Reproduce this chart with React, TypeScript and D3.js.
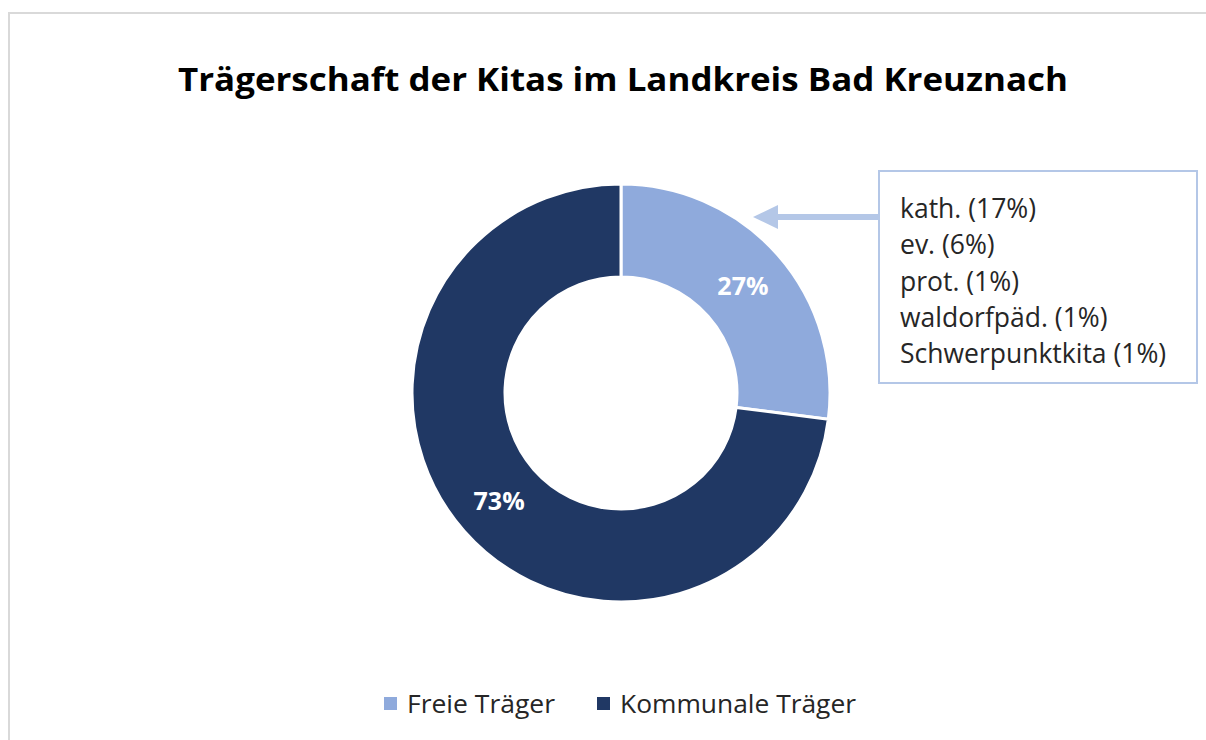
import React, { useEffect, useRef } from "react";
import * as d3 from "d3";

const categories = ["Freie Träger", "Kommunale Träger"];
const values = [27, 73];
const colors = ["#8FAADC", "#203864"];
const breakdown = ["kath. (17%)", "ev. (6%)", "prot. (1%)", "waldorfpäd. (1%)", "Schwerpunktkita (1%)"];
const title = "Trägerschaft der Kitas im Landkreis Bad Kreuznach";

export default function App() {
  const ref = useRef<SVGSVGElement>(null);
  useEffect(() => {
    const svg = d3.select(ref.current);
    svg.selectAll("*").remove();
    const font = "'Open Sans', Lato, sans-serif";

    svg.append("rect").attr("x", 9).attr("y", 13).attr("width", 1250).attr("height", 800)
      .attr("fill", "white").attr("stroke", "#d9d9d9").attr("stroke-width", 2);

    svg.append("text").attr("x", 178).attr("y", 91)
      .attr("font-family", font).attr("font-weight", 700).attr("font-size", 33)
      .attr("textLength", 890).attr("lengthAdjust", "spacingAndGlyphs")
      .attr("fill", "#000").text(title);

    const cx = 621, cy = 393, R = 209, r = 116;
    const pie = d3.pie<number>().sort(null).value(d => d);
    const arcs = pie(values);
    const arc = d3.arc<d3.PieArcDatum<number>>().innerRadius(r).outerRadius(R);
    const g = svg.append("g").attr("transform", `translate(${cx},${cy})`);
    g.selectAll("path").data(arcs).join("path").attr("d", arc as any)
      .attr("fill", (_, i) => colors[i]).attr("stroke", "white").attr("stroke-width", 3);
    const labelArc = d3.arc<d3.PieArcDatum<number>>().innerRadius((r + R) / 2).outerRadius((r + R) / 2);
    g.selectAll("text.lbl").data(arcs).join("text").attr("class", "lbl")
      .attr("transform", d => `translate(${labelArc.centroid(d)})`)
      .attr("text-anchor", "middle").attr("dy", "0.38em")
      .attr("font-family", font).attr("font-weight", 700).attr("font-size", 25)
      .attr("fill", "white").text(d => `${d.data}%`);

    // callout box
    const bx = 879, by = 171, bw = 318, bh = 212;
    svg.append("rect").attr("x", bx).attr("y", by).attr("width", bw).attr("height", bh)
      .attr("fill", "white").attr("stroke", "#B4C7E7").attr("stroke-width", 2);
    svg.append("g").selectAll("text").data(breakdown).join("text")
      .attr("x", bx + 21).attr("y", (_, i) => 218 + i * 36.3)
      .attr("font-family", font).attr("font-size", 26.5).attr("fill", "#262626")
      .text(d => d);

    // arrow
    const ay = 217;
    svg.append("line").attr("x1", bx - 1).attr("x2", 775).attr("y1", ay).attr("y2", ay)
      .attr("stroke", "#B4C7E7").attr("stroke-width", 6);
    svg.append("path").attr("d", `M753,${ay} L778,${ay - 12} L778,${ay + 12} Z`).attr("fill", "#B4C7E7");

    // legend
    const ly = 713;
    const items = [
      { x: 384, tx: 407, w: 148, label: categories[0], c: colors[0] },
      { x: 597, tx: 620, w: 236, label: categories[1], c: colors[1] },
    ];
    items.forEach(it => {
      svg.append("rect").attr("x", it.x).attr("y", 697).attr("width", 13).attr("height", 13).attr("fill", it.c);
      svg.append("text").attr("x", it.tx).attr("y", ly).attr("font-family", font).attr("font-size", 25)
        .attr("textLength", it.w).attr("lengthAdjust", "spacingAndGlyphs")
        .attr("fill", "#262626").text(it.label);
    });
  }, []);
  return <svg ref={ref} width={1206} height={740} style={{ position: "absolute", left: 0, top: 0 }} />;
}
